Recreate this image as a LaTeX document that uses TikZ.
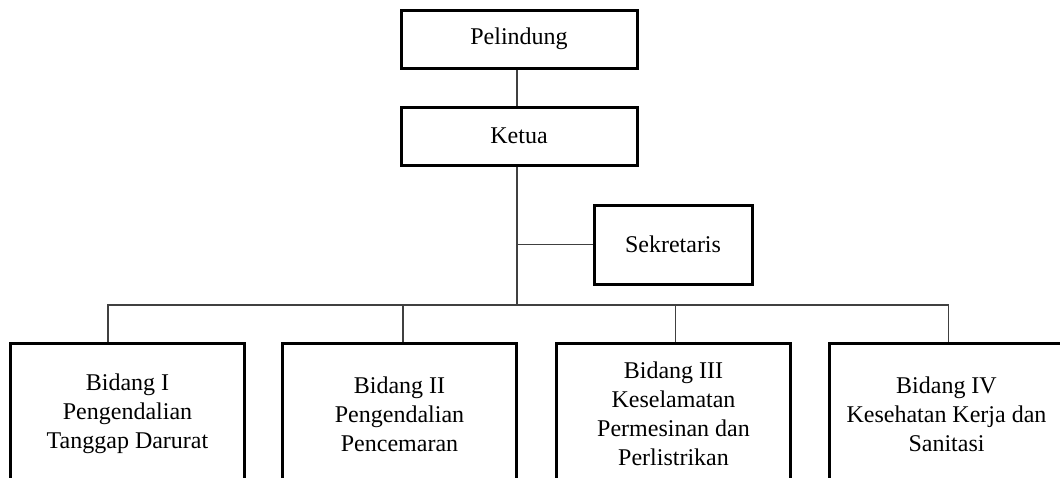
\documentclass[tikz,border=0pt]{standalone}
\usepackage{fontspec}
\setmainfont{Liberation Serif}
\usetikzlibrary{positioning}

\begin{document}
\begin{tikzpicture}[
    x=0.5pt, y=-0.5pt,
    node distance=18pt,
    box/.style={rectangle, draw, line width=1.5pt, align=center, inner sep=0pt, font=\fontsize{12}{14.5}\selectfont},
    headbox/.style={box, minimum width=118pt, minimum height=29pt},
    bidang/.style={box, minimum width=117pt, minimum height=71pt},
    line/.style={draw=black!75, line width=0.8pt}
]
\useasboundingbox (0,0) rectangle (1060,477);

\node[headbox] (pelindung) at (519,39) {Pelindung};
\node[headbox, below=of pelindung] (ketua) {Ketua};
\node[box, minimum width=79pt, minimum height=39.5pt] (sekretaris) at (673,244.5) {Sekretaris};

\node[bidang] (b1) at (127.5,414) {Bidang I\\Pengendalian\\Tanggap Darurat};
\node[bidang, right=17.5pt of b1] (b2) {Bidang II\\Pengendalian\\Pencemaran};
\node[bidang, right=18.5pt of b2] (b3) {Bidang III\\Keselamatan\\Permesinan dan\\Perlistrikan};
\node[bidang, right=of b3] (b4) {Bidang IV\\Kesehatan Kerja dan\\Sanitasi};

\coordinate (bus) at (517,305);

\draw[line] (pelindung.south -| bus) -- (ketua.north -| bus);
\draw[line] (ketua.south -| bus) -- (bus);
\draw[line] (sekretaris.west) -- (sekretaris.west -| bus);
\draw[line] ([xshift=-9.75pt]b1.north) |- (bus) -| ([xshift=1pt]b4.north);
\draw[line] ([xshift=1.75pt]b2.north) -- ([xshift=1.75pt]b2.north |- bus);
\draw[line] ([xshift=1pt]b3.north) -- ([xshift=1pt]b3.north |- bus);
\end{tikzpicture}
\end{document}
